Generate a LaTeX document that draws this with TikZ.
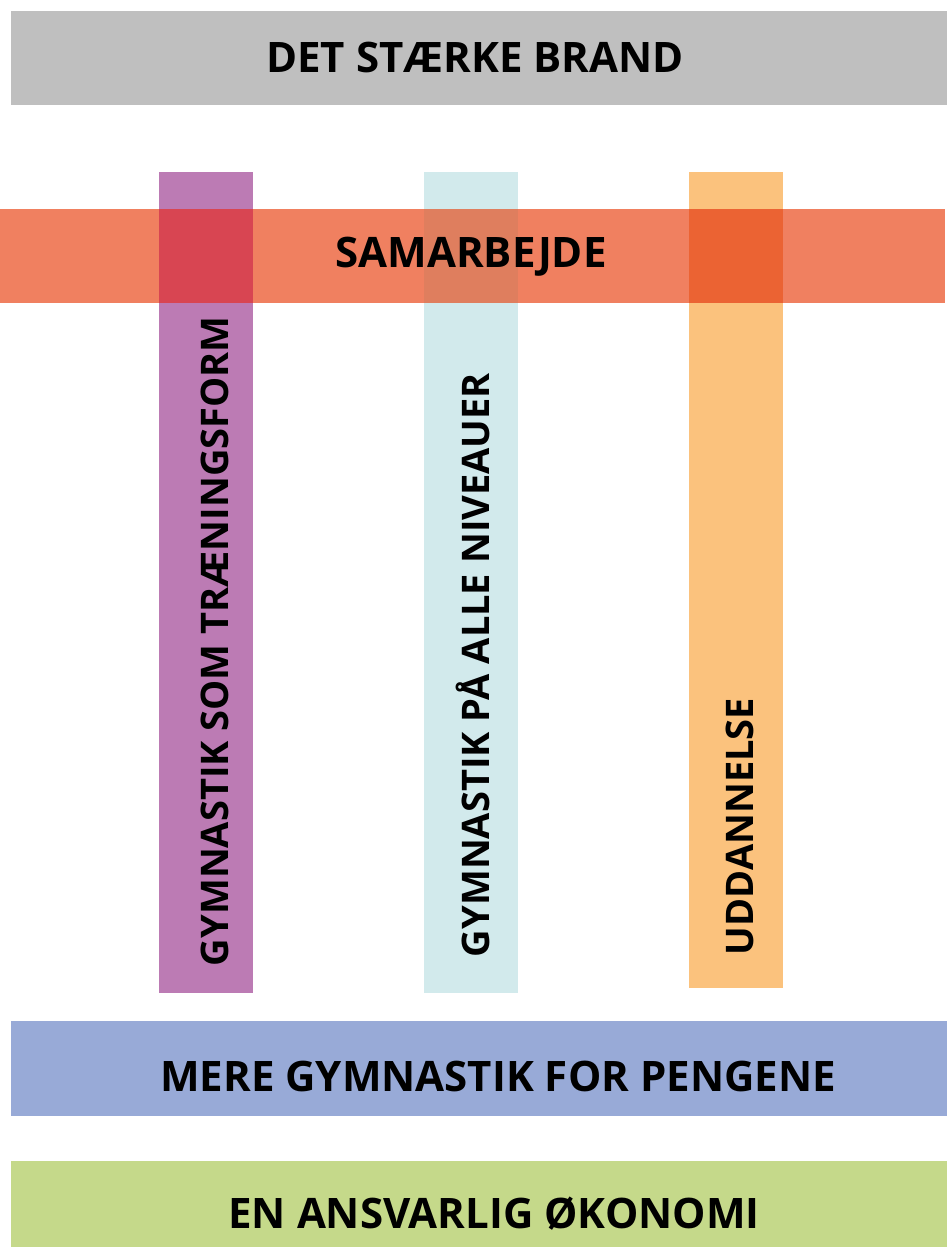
\documentclass[tikz,border=0pt]{standalone}
\usepackage{fontspec}
\setmainfont{Open Sans}
\definecolor{cgrey}{HTML}{BFBFBF}
\definecolor{cred}{HTML}{F08060}
\definecolor{cpurple}{HTML}{BC7BB4}
\definecolor{ccyan}{HTML}{D2EAEC}
\definecolor{corange}{HTML}{FBC27D}
\definecolor{cpr}{HTML}{D84552}
\definecolor{ccr}{HTML}{DF7E5E}
\definecolor{cor}{HTML}{EB6333}
\definecolor{cblue}{HTML}{98AAD7}
\definecolor{cgreen}{HTML}{C5D98A}
\tikzset{
  lbl/.style={inner sep=0pt, outer sep=0pt, font=\bfseries\fontsize{31.5}{36}\selectfont, text=black},
  vlbl/.style={inner sep=0pt, outer sep=0pt, font=\bfseries\fontsize{28.5}{33}\selectfont, text=black, rotate=90, anchor=base west},
}
\begin{document}
\begin{tikzpicture}[x=0.75pt,y=-0.75pt]
\useasboundingbox (0,0) rectangle (947,1247);
\fill[white] (0,0) rectangle (947,1247);
% horizontal bars
\fill[cgrey] (11,11) rectangle (947,105);
% columns
\fill[cpurple] (159,172) rectangle (253,993);
\fill[ccyan] (424,172) rectangle (518,993);
\fill[corange] (689,172) rectangle (783,988);
% red bar with overlaps
\fill[cred] (0,209) rectangle (945,303);
\fill[cpr] (159,209) rectangle (253,303);
\fill[ccr] (424,209) rectangle (518,303);
\fill[cor] (689,209) rectangle (783,303);
\fill[cblue] (11,1021) rectangle (947,1116);
\fill[cgreen] (11,1161) rectangle (947,1247);
% labels
\node[lbl, anchor=base] (brand) at (475,72) {DET STÆRKE BRAND};
\node[lbl, anchor=base] (samarb) at (471,267) {SAMARBEJDE};
\node[lbl, anchor=base] (mere) at (498,1091) {MERE GYMNASTIK FOR PENGENE};
\node[lbl, anchor=base] (okonomi) at (494,1228) {EN ANSVARLIG ØKONOMI};
\node[vlbl] (traening) at (228,966) {GYMNASTIK SOM TRÆNINGSFORM};
\node[vlbl] (niveauer) at (489,957) {GYMNASTIK PÅ ALLE NIVEAUER};
\node[vlbl] (uddannelse) at (753,955) {UDDANNELSE};
\end{tikzpicture}
\end{document}
